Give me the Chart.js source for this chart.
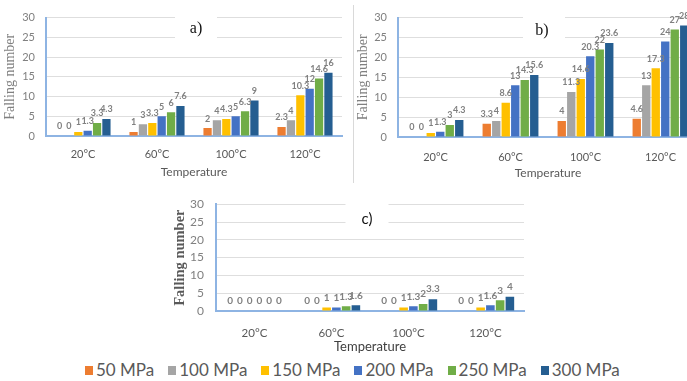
<!DOCTYPE html>
<html>
<head>
<meta charset="utf-8">
<script src="https://cdn.jsdelivr.net/npm/chart.js@4.4.1/dist/chart.umd.min.js"></script>
<style>
  html, body { margin: 0; padding: 0; background: #fff; }
  body { width: 687px; height: 381px; overflow: hidden; position: relative; font-family: Lato, sans-serif; }
  .panel { position: absolute; }
  #sep { position: absolute; left: 353px; top: 5px; width: 1px; height: 178px; background: #d9d9d9; }
  #legend { position: absolute; left: 85px; top: 360px; display: flex; gap: 14px; align-items: center; white-space: nowrap; }
  #legend .item { display: flex; align-items: center; gap: 3px; font-size: 17px; color: #595959; line-height: 20px; }
  #legend .sw { width: 8px; height: 9px; display: inline-block; }
</style>
</head>
<body>
<div class="panel" style="left:0;top:0;width:345px;height:185px"><canvas id="chartA"></canvas></div>
<div id="sep"></div>
<div class="panel" style="left:355px;top:0;width:345px;height:185px"><canvas id="chartB"></canvas></div>
<div class="panel" style="left:170px;top:185px;width:360px;height:170px"><canvas id="chartC"></canvas></div>
<div id="legend"></div>

<script>
// categories and series
const categories = ['20°C', '60°C', '100°C', '120°C'];
const pressures = ['50 MPa', '100 MPa', '150 MPa', '200 MPa', '250 MPa', '300 MPa'];
const colors = ['#ED7D31', '#A5A5A5', '#FFC000', '#4472C4', '#70AD47', '#255E91'];

// one row per pressure, values per temperature
const panelA = [
  [0, 1, 2, 2.3],
  [0, 3, 4, 4],
  [1, 3.3, 4.3, 10.3],
  [1.3, 5, 5, 12],
  [3.3, 6, 6.3, 14.6],
  [4.3, 7.6, 9, 16]
];
const panelB = [
  [0, 3.3, 4, 4.6],
  [0, 4, 11.3, 13],
  [1, 8.6, 14.6, 17.3],
  [1.3, 13, 20.3, 24],
  [3, 14.3, 22, 27],
  [4.3, 15.6, 23.6, 28]
];
const panelC = [
  [0, 0, 0, 0],
  [0, 0, 0, 0],
  [0, 1, 1, 1],
  [0, 1, 1.3, 1.6],
  [0, 1.3, 2, 3],
  [0, 1.6, 3.3, 4]
];

const axisBlue = '#8EB4E3';

// numbers above the bars
const valueLabels = {
  id: 'valueLabels',
  afterDatasetsDraw(chart, args, opts) {
    const ctx = chart.ctx;
    ctx.save();
    ctx.font = opts.font;
    ctx.fillStyle = opts.color;
    ctx.textAlign = 'center';
    ctx.textBaseline = 'bottom';
    chart.data.datasets.forEach((ds, i) => {
      chart.getDatasetMeta(i).data.forEach((bar, j) => {
        ctx.fillText(String(ds.data[j]), bar.x, bar.y - 5);
      });
    });
    ctx.restore();
  }
};

// the a) b) c) tag on a white patch
const panelTag = {
  id: 'panelTag',
  beforeDatasetsDraw(chart, args, o) {
    const { ctx, chartArea: a } = chart;
    const cx = (a.left + a.right) / 2 + o.dx;
    ctx.save();
    ctx.fillStyle = '#fff';
    ctx.fillRect(cx - o.w / 2, a.top - 7, o.w, 30);
    ctx.fillStyle = '#111';
    ctx.font = o.font;
    ctx.textAlign = 'center';
    ctx.textBaseline = 'middle';
    ctx.fillText(o.text, cx + o.tx, a.top + o.dy);
    ctx.restore();
  }
};

function makeChart(id, rows, cfg) {
  return new Chart(document.getElementById(id), {
    type: 'bar',
    data: {
      labels: categories,
      datasets: rows.map((r, i) => ({
        label: pressures[i],
        data: r,
        backgroundColor: colors[i],
        categoryPercentage: 0.76,
        barPercentage: 0.88
      }))
    },
    options: {
      responsive: true,
      maintainAspectRatio: false,
      animation: false,
      layout: { padding: cfg.pad },
      plugins: {
        legend: { display: false },
        tooltip: { enabled: false },
        valueLabels: { font: cfg.valFont, color: '#808080' },
        panelTag: cfg.tag
      },
      scales: {
        x: {
          grid: { display: false, drawTicks: false },
          border: { color: axisBlue, width: 2 },
          ticks: { color: '#595959', font: { family: 'Lato', size: cfg.xTickSize }, padding: cfg.xTickPad },
          title: {
            display: true, text: 'Temperature', color: cfg.xTitleColor,
            font: { family: 'Lato', size: cfg.xTitleSize },
            padding: { top: 0, bottom: cfg.xTitlePad }
          },
          afterFit: s => { s.height = cfg.xH; }
        },
        y: {
          min: 0, max: 30,
          ticks: { stepSize: 5, color: '#808080', font: { family: 'Lato', size: cfg.yTickSize }, padding: cfg.yTickPad },
          grid: { color: '#dedede', drawTicks: false },
          border: { color: axisBlue, width: 2 },
          title: {
            display: true, text: 'Falling number', color: cfg.yTitleColor,
            font: { family: 'Liberation Serif', size: cfg.yTitleSize, weight: cfg.yTitleWeight },
            padding: { top: cfg.yTitlePad, bottom: 0 }
          },
          afterFit: s => { s.width = cfg.yW; }
        }
      }
    },
    plugins: [valueLabels, panelTag]
  });
}

makeChart('chartA', panelA, {
  pad: { left: 2, top: 12, right: 3, bottom: 4 },
  yW: 44, xH: 45,
  xTickSize: 11, xTickPad: 12, xTitleSize: 12, xTitlePad: 2, xTitleColor: '#595959',
  yTickSize: 11, yTickPad: 11, yTitleSize: 14, yTitleWeight: 'normal', yTitlePad: 0, yTitleColor: '#808080',
  valFont: 'bold 9px Lato',
  tag: { text: 'a)', font: '16px "Liberation Serif"', dx: 2, tx: 0, w: 42, dy: 11 }
});

makeChart('chartB', panelB, {
  pad: { left: 0, top: 12, right: 2, bottom: 4 },
  yW: 43, xH: 44,
  xTickSize: 11, xTickPad: 14, xTitleSize: 12, xTitlePad: 1, xTitleColor: '#595959',
  yTickSize: 11, yTickPad: 11, yTitleSize: 14, yTitleWeight: 'normal', yTitlePad: 0, yTitleColor: '#808080',
  valFont: 'bold 9px Lato',
  tag: { text: 'b)', font: '16px "Liberation Serif"', dx: -4, tx: -2, w: 42, dy: 13 }
});

makeChart('chartC', panelC, {
  pad: { left: 0, top: 10, right: 6, bottom: 0 },
  yW: 46, xH: 44,
  xTickSize: 11.5, xTickPad: 15, xTitleSize: 13, xTitlePad: 0, xTitleColor: '#404040',
  yTickSize: 12, yTickPad: 12, yTitleSize: 14.5, yTitleWeight: 'bold', yTitlePad: 2, yTitleColor: '#595959',
  valFont: 'bold 10px Lato',
  tag: { text: 'c)', font: '15px Lato', dx: -3, tx: 0, w: 43, dy: 15 }
});

// legend
const legend = document.getElementById('legend');
pressures.forEach((p, i) => {
  const item = document.createElement('div');
  item.className = 'item';
  const sw = document.createElement('span');
  sw.className = 'sw';
  sw.style.background = colors[i];
  const txt = document.createElement('span');
  txt.textContent = p;
  item.appendChild(sw);
  item.appendChild(txt);
  legend.appendChild(item);
});
</script>
</body>
</html>
